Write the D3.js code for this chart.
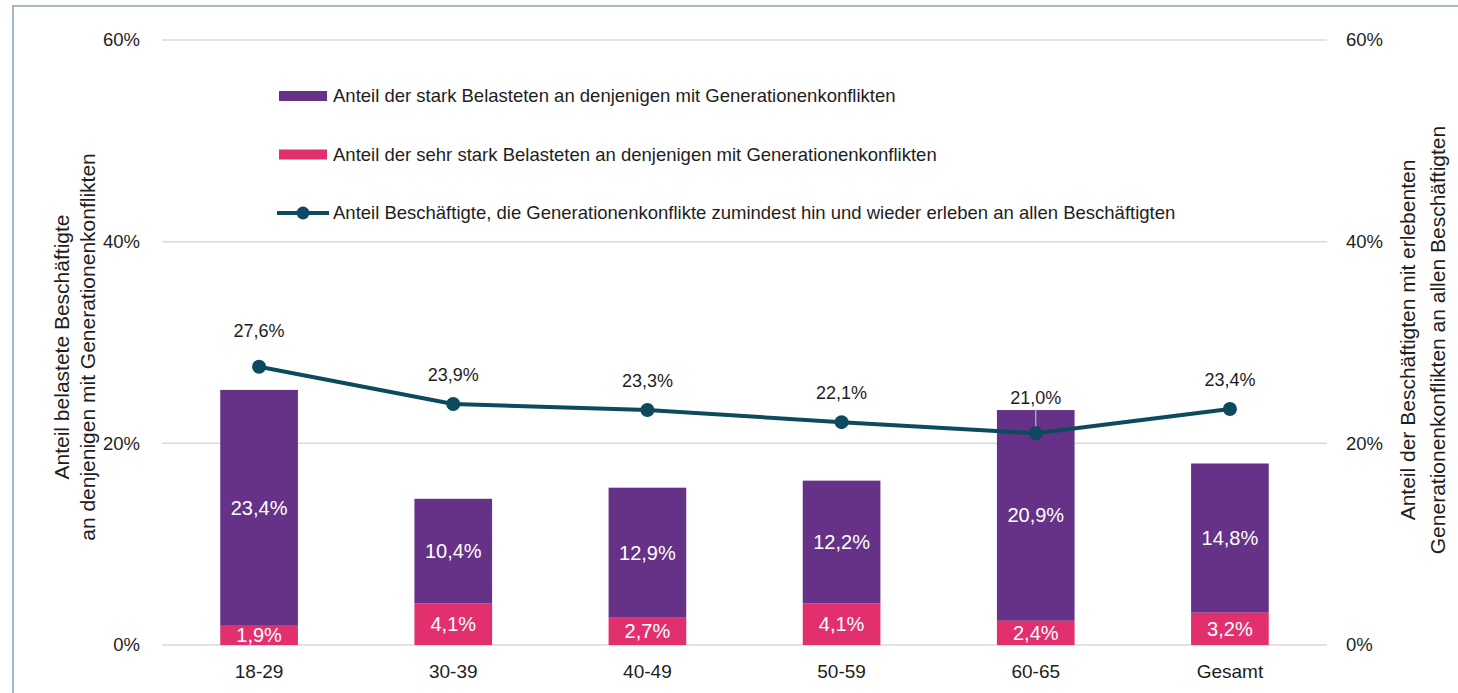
<!DOCTYPE html>
<html>
<head>
<meta charset="utf-8">
<script src="https://cdn.jsdelivr.net/npm/d3@7"></script>
<style>
  body { margin: 0; background: #fff; }
  text { font-family: "Liberation Sans", Arial, sans-serif; fill: #1e1e1e; }
</style>
</head>
<body>
<div id="chart"></div>
<script>
// data
const categories = ["18-29", "30-39", "40-49", "50-59", "60-65", "Gesamt"];
const sehrStark = [1.9, 4.1, 2.7, 4.1, 2.4, 3.2];     // pink, bottom of stack
const stark = [23.4, 10.4, 12.9, 12.2, 20.9, 14.8];   // purple, top of stack
const erleben = [27.6, 23.9, 23.3, 22.1, 21.0, 23.4]; // line, right axis
const yTicks = [0, 20, 40, 60];
const legendLabels = [
  "Anteil der stark Belasteten an denjenigen mit Generationenkonflikten",
  "Anteil der sehr stark Belasteten an denjenigen mit Generationenkonflikten",
  "Anteil Beschäftigte, die Generationenkonflikte zumindest hin und wieder erleben an allen Beschäftigten"
];

const purple = "#653287", pink = "#e2306f", lineCol = "#0d4a5e";
const width = 1458, height = 693;
const margin = {top: 40, right: 131, bottom: 48, left: 162};
const fmt = v => d3.format(".1f")(v).replace(".", ",") + "%";

const svg = d3.select("#chart").append("svg")
    .attr("width", width)
    .attr("height", height);

// frame
svg.append("rect")
    .attr("x", 13).attr("y", 6)
    .attr("width", width).attr("height", height)
    .attr("fill", "none")
    .attr("stroke", "#a7b8c6")
    .attr("stroke-width", 2);

const x = d3.scaleBand()
    .domain(categories)
    .range([margin.left, width - margin.right]);

const y = d3.scaleLinear()
    .domain([0, 60])
    .range([height - margin.bottom, margin.top]);

// gridlines
svg.append("g")
  .selectAll("line")
  .data(yTicks)
  .join("line")
    .attr("x1", margin.left)
    .attr("x2", width - margin.right)
    .attr("y1", d => y(d))
    .attr("y2", d => y(d))
    .attr("stroke", "#d9d9d9")
    .attr("stroke-width", 1.5);

// left axis
const yAxisL = svg.append("g")
    .attr("transform", `translate(${margin.left - 19},0)`)
    .call(d3.axisLeft(y).tickValues(yTicks).tickSize(0).tickFormat(d => d + "%"));
yAxisL.select(".domain").remove();
yAxisL.selectAll("text").attr("font-size", 18.5).style("fill", "#1e1e1e");

// right axis
const yAxisR = svg.append("g")
    .attr("transform", `translate(${width - margin.right + 16},0)`)
    .call(d3.axisRight(y).tickValues(yTicks).tickSize(0).tickFormat(d => d + "%"));
yAxisR.select(".domain").remove();
yAxisR.selectAll("text").attr("font-size", 18.5).style("fill", "#1e1e1e");

// bottom axis
const xAxis = svg.append("g")
    .attr("transform", `translate(0,${height - margin.bottom})`)
    .call(d3.axisBottom(x).tickSize(0).tickPadding(20));
xAxis.select(".domain").remove();
xAxis.selectAll("text").attr("font-size", 19).style("fill", "#1e1e1e");

// stacked bars
const rows = categories.map((c, i) => ({cat: c, sehr: sehrStark[i], stark: stark[i], line: erleben[i]}));
const barW = x.bandwidth() * 0.4;
const bx = d => x(d.cat) + (x.bandwidth() - barW) / 2;

svg.append("g").selectAll("rect")
  .data(rows)
  .join("rect")
    .attr("x", bx)
    .attr("width", barW)
    .attr("y", d => y(d.sehr + d.stark))
    .attr("height", d => y(d.sehr) - y(d.sehr + d.stark))
    .attr("fill", purple);

svg.append("g").selectAll("rect")
  .data(rows)
  .join("rect")
    .attr("x", bx)
    .attr("width", barW)
    .attr("y", d => y(d.sehr))
    .attr("height", d => y(0) - y(d.sehr))
    .attr("fill", pink);

// bar labels
svg.append("g").selectAll("text")
  .data(rows)
  .join("text")
    .attr("x", d => x(d.cat) + x.bandwidth() / 2)
    .attr("y", d => y(d.sehr + d.stark / 2))
    .attr("dy", "0.35em")
    .attr("text-anchor", "middle")
    .attr("font-size", 20)
    .style("fill", "#fff")
    .text(d => fmt(d.stark));

svg.append("g").selectAll("text")
  .data(rows)
  .join("text")
    .attr("x", d => x(d.cat) + x.bandwidth() / 2)
    .attr("y", d => y(d.sehr / 2))
    .attr("dy", "0.35em")
    .attr("text-anchor", "middle")
    .attr("font-size", 20)
    .style("fill", "#fff")
    .text(d => fmt(d.sehr));

// line
const cx = d => x(d.cat) + x.bandwidth() / 2;
svg.append("path")
    .datum(rows)
    .attr("fill", "none")
    .attr("stroke", lineCol)
    .attr("stroke-width", 4)
    .attr("d", d3.line().x(cx).y(d => y(d.line)));

// small leader line where the label was pulled up (60-65)
const lift = d => (d.cat === "18-29" || d.cat === "60-65") ? 36 : 29;
svg.append("g").selectAll("line")
  .data(rows.filter(d => d.cat === "60-65"))
  .join("line")
    .attr("x1", cx).attr("x2", cx)
    .attr("y1", d => y(d.line) - lift(d) + 12)
    .attr("y2", d => y(d.line))
    .attr("stroke", "#bbb")
    .attr("stroke-width", 1.2);

svg.append("g").selectAll("circle")
  .data(rows)
  .join("circle")
    .attr("cx", cx)
    .attr("cy", d => y(d.line))
    .attr("r", 7)
    .attr("fill", lineCol);

svg.append("g").selectAll("text")
  .data(rows)
  .join("text")
    .attr("x", cx)
    .attr("y", d => y(d.line) - lift(d))
    .attr("dy", "0.35em")
    .attr("text-anchor", "middle")
    .attr("font-size", 18)
    .text(d => fmt(d.line));

// legend
const legend = svg.append("g").attr("transform", "translate(279,96)");
const item = legend.selectAll("g")
  .data(legendLabels)
  .join("g")
    .attr("transform", (d, i) => `translate(0,${i * 58.5})`);

item.filter((d, i) => i < 2).append("rect")
    .attr("x", 0).attr("y", -5)
    .attr("width", 48).attr("height", 10)
    .attr("fill", (d, i) => i === 0 ? purple : pink);

item.filter((d, i) => i === 2).append("line")
    .attr("x1", -2).attr("x2", 50)
    .attr("stroke", lineCol).attr("stroke-width", 4);
item.filter((d, i) => i === 2).append("circle")
    .attr("cx", 24).attr("r", 6.5).attr("fill", lineCol);

item.append("text")
    .attr("x", 54)
    .attr("dy", "0.35em")
    .attr("font-size", 18.5)
    .text(d => d);

// axis titles
svg.append("text")
    .attr("transform", "translate(69,347) rotate(-90)")
    .attr("text-anchor", "middle")
    .attr("font-size", 21)
  .selectAll("tspan")
  .data(["Anteil belastete Beschäftigte", "an denjenigen mit Generationenkonflikten"])
  .join("tspan")
    .attr("x", 0)
    .attr("dy", (d, i) => i === 0 ? 0 : 26)
    .text(d => d);

svg.append("text")
    .attr("transform", "translate(1415,340) rotate(-90)")
    .attr("text-anchor", "middle")
    .attr("font-size", 21)
  .selectAll("tspan")
  .data(["Anteil der Beschäftigten mit erlebenten", "Generationenkonflikten an allen Beschäftigten"])
  .join("tspan")
    .attr("x", 0)
    .attr("dy", (d, i) => i === 0 ? 0 : 30)
    .text(d => d);
</script>
</body>
</html>
